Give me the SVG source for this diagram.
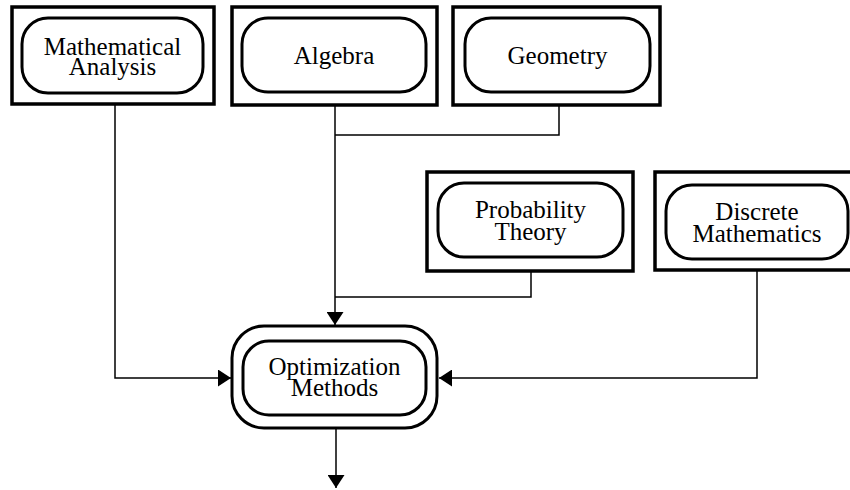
<svg xmlns="http://www.w3.org/2000/svg" width="850" height="490" viewBox="0 0 850 490">
<style>
.box{fill:#fff;stroke:#000;stroke-width:3.5}
.pill{fill:#fff;stroke:#000;stroke-width:3}
.lbl{font-family:"Liberation Serif","Times New Roman",serif;font-size:25px;fill:#000;text-anchor:middle}
.con{fill:none;stroke:#000;stroke-width:1.5}
</style>
<defs>
<marker id="ah" viewBox="0 0 13 17" refX="13" refY="8.5" markerWidth="13" markerHeight="17" markerUnits="userSpaceOnUse" orient="auto">
<path d="M0,0 L13,8.5 L0,17 Z" fill="#000"/>
</marker>
</defs>
<rect width="850" height="490" fill="#fff"/>
<g id="connectors">
<path class="con" d="M115,104 V378 H231" marker-end="url(#ah)"/>
<path class="con" d="M335,105 V325" marker-end="url(#ah)"/>
<path class="con" d="M559,105 V135 H335"/>
<path class="con" d="M531,271 V297 H335"/>
<path class="con" d="M757,270 V378 H439" marker-end="url(#ah)"/>
<path class="con" d="M336,428 V488" marker-end="url(#ah)"/>
</g>
<g id="mathematical-analysis">
<rect class="box" x="12" y="7" width="202" height="97"/>
<rect class="pill" x="22" y="18" width="181" height="75" rx="26"/>
<text class="lbl" x="112.5" y="55">Mathematical</text>
<text class="lbl" x="112.5" y="75">Analysis</text>
</g>
<g id="algebra">
<rect class="box" x="232" y="7" width="205" height="98"/>
<rect class="pill" x="242" y="18" width="184" height="74" rx="26"/>
<text class="lbl" x="334" y="64">Algebra</text>
</g>
<g id="geometry">
<rect class="box" x="453" y="7" width="207" height="98"/>
<rect class="pill" x="465" y="18" width="185" height="74" rx="26"/>
<text class="lbl" x="557.5" y="64">Geometry</text>
</g>
<g id="probability-theory">
<rect class="box" x="427" y="172" width="206" height="99"/>
<rect class="pill" x="438" y="183" width="185" height="74" rx="26"/>
<text class="lbl" x="530.5" y="218">Probability</text>
<text class="lbl" x="530.5" y="240">Theory</text>
</g>
<g id="discrete-mathematics">
<rect class="box" x="655" y="172" width="204" height="98"/>
<rect class="pill" x="666" y="185" width="182" height="74" rx="26"/>
<text class="lbl" x="757" y="220">Discrete</text>
<text class="lbl" x="757" y="242">Mathematics</text>
</g>
<g id="optimization-methods">
<rect class="pill" x="232" y="326" width="205" height="102" rx="32"/>
<rect class="pill" x="243" y="341" width="183" height="74" rx="26"/>
<text class="lbl" x="334.5" y="375">Optimization</text>
<text class="lbl" x="334.5" y="396">Methods</text>
</g>
</svg>
